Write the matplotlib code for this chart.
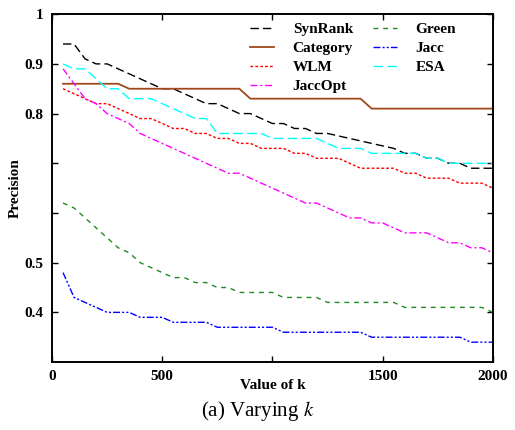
import numpy as np
import matplotlib
matplotlib.use("Agg")
import matplotlib.pyplot as plt

plt.rcParams['font.family'] = ['Liberation Serif', 'DejaVu Serif']
plt.rcParams['mathtext.fontset'] = 'stix'

# values of k
k = np.arange(50, 2001, 50)

synrank = [0.94, 0.94, 0.91, 0.90, 0.90, 0.89, 0.88, 0.87, 0.86, 0.85,
           0.85, 0.84, 0.83, 0.82, 0.82, 0.81, 0.80, 0.80, 0.79, 0.78,
           0.78, 0.77, 0.77, 0.76, 0.76, 0.755, 0.75, 0.745, 0.74, 0.735,
           0.73, 0.72, 0.72, 0.71, 0.71, 0.70, 0.70, 0.69, 0.69, 0.69]
category = [0.86, 0.86, 0.86, 0.86, 0.86, 0.86, 0.85, 0.85, 0.85, 0.85,
            0.85, 0.85, 0.85, 0.85, 0.85, 0.85, 0.85, 0.83, 0.83, 0.83,
            0.83, 0.83, 0.83, 0.83, 0.83, 0.83, 0.83, 0.83, 0.81, 0.81,
            0.81, 0.81, 0.81, 0.81, 0.81, 0.81, 0.81, 0.81, 0.81, 0.81]
wlm = [0.85, 0.84, 0.83, 0.82, 0.82, 0.81, 0.80, 0.79, 0.79, 0.78,
       0.77, 0.77, 0.76, 0.76, 0.75, 0.75, 0.74, 0.74, 0.73, 0.73,
       0.73, 0.72, 0.72, 0.71, 0.71, 0.71, 0.70, 0.69, 0.69, 0.69,
       0.69, 0.68, 0.68, 0.67, 0.67, 0.67, 0.66, 0.66, 0.66, 0.65]
jaccopt = [0.89, 0.86, 0.83, 0.82, 0.80, 0.79, 0.78, 0.76, 0.75, 0.74,
           0.73, 0.72, 0.71, 0.70, 0.69, 0.68, 0.68, 0.67, 0.66, 0.65,
           0.64, 0.63, 0.62, 0.62, 0.61, 0.60, 0.59, 0.59, 0.58, 0.58,
           0.57, 0.56, 0.56, 0.56, 0.55, 0.54, 0.54, 0.53, 0.53, 0.52]
green = [0.62, 0.61, 0.59, 0.57, 0.55, 0.53, 0.52, 0.50, 0.49, 0.48,
         0.47, 0.47, 0.46, 0.46, 0.45, 0.45, 0.44, 0.44, 0.44, 0.44,
         0.43, 0.43, 0.43, 0.43, 0.42, 0.42, 0.42, 0.42, 0.42, 0.42,
         0.42, 0.41, 0.41, 0.41, 0.41, 0.41, 0.41, 0.41, 0.41, 0.40]
jacc = [0.48, 0.43, 0.42, 0.41, 0.40, 0.40, 0.40, 0.39, 0.39, 0.39,
        0.38, 0.38, 0.38, 0.38, 0.37, 0.37, 0.37, 0.37, 0.37, 0.37,
        0.36, 0.36, 0.36, 0.36, 0.36, 0.36, 0.36, 0.36, 0.35, 0.35,
        0.35, 0.35, 0.35, 0.35, 0.35, 0.35, 0.35, 0.34, 0.34, 0.34]
esa = [0.90, 0.89, 0.89, 0.87, 0.85, 0.85, 0.83, 0.83, 0.83, 0.82,
       0.81, 0.80, 0.79, 0.79, 0.76, 0.76, 0.76, 0.76, 0.76, 0.75,
       0.75, 0.75, 0.75, 0.75, 0.74, 0.73, 0.73, 0.73, 0.72, 0.72,
       0.72, 0.72, 0.72, 0.71, 0.71, 0.70, 0.70, 0.70, 0.70, 0.70]

fig = plt.figure(figsize=(5.15, 4.30), dpi=100)
ax = fig.add_axes([0.101, 0.158, 0.856, 0.809])

lw = 1.0
ax.plot(k, synrank, color='black', lw=lw, dashes=(6, 3), label='SynRank')
ax.plot(k, category, color='#a0481c', lw=1.3, label='Category')
ax.plot(k, wlm, color='red', lw=lw, dashes=(2, 1.5), label='WLM')
ax.plot(k, jaccopt, color='magenta', lw=lw, dashes=(5, 2, 1.5, 2), label='JaccOpt')
ax.plot(k, green, color='#208a20', lw=lw, dashes=(3.5, 3.5), label='Green')
ax.plot(k, jacc, color='blue', lw=lw, dashes=(5, 1.5, 1.5, 1.5, 1.5, 1.5), label='Jacc')
ax.plot(k, esa, color='cyan', lw=lw, dashes=(7, 3), label='ESA')

ax.set_xlim(0, 2000)
ax.set_ylim(0.3, 1.0)
ax.set_xticks([0, 500, 1000, 1500, 2000])
ax.set_xticklabels(['0', '500', '', '1500', '2000'])
ax.set_yticks([0.4, 0.5, 0.6, 0.7, 0.8, 0.9, 1.0])
ax.set_yticklabels(['0.4', '0.5', '', '', '0.8', '0.9', '1'])
ax.tick_params(direction='in', length=4, width=1, top=True, right=True,
               labelsize=11, pad=6)
plt.setp(ax.get_xticklabels() + ax.get_yticklabels(), fontweight='bold')
for s in ax.spines.values():
    s.set_linewidth(1.4)

ax.set_xlabel('Value of k', fontsize=11, fontweight='bold', labelpad=-3)
ax.set_ylabel('Precision', fontsize=11, fontweight='bold', labelpad=2)

ax.legend(ncol=2, loc='upper left', bbox_to_anchor=(0.449, 0.976),
          frameon=False, prop={'size': 11, 'weight': 'bold'},
          handlelength=1.6, handletextpad=1.2,
          columnspacing=1.3, labelspacing=0.35, borderpad=0, borderaxespad=0)

fig.text(0.5, 0.045, '(a) Varying $k$', ha='center', va='center',
         fontsize=15)

fig.savefig('out.png', dpi=100)
